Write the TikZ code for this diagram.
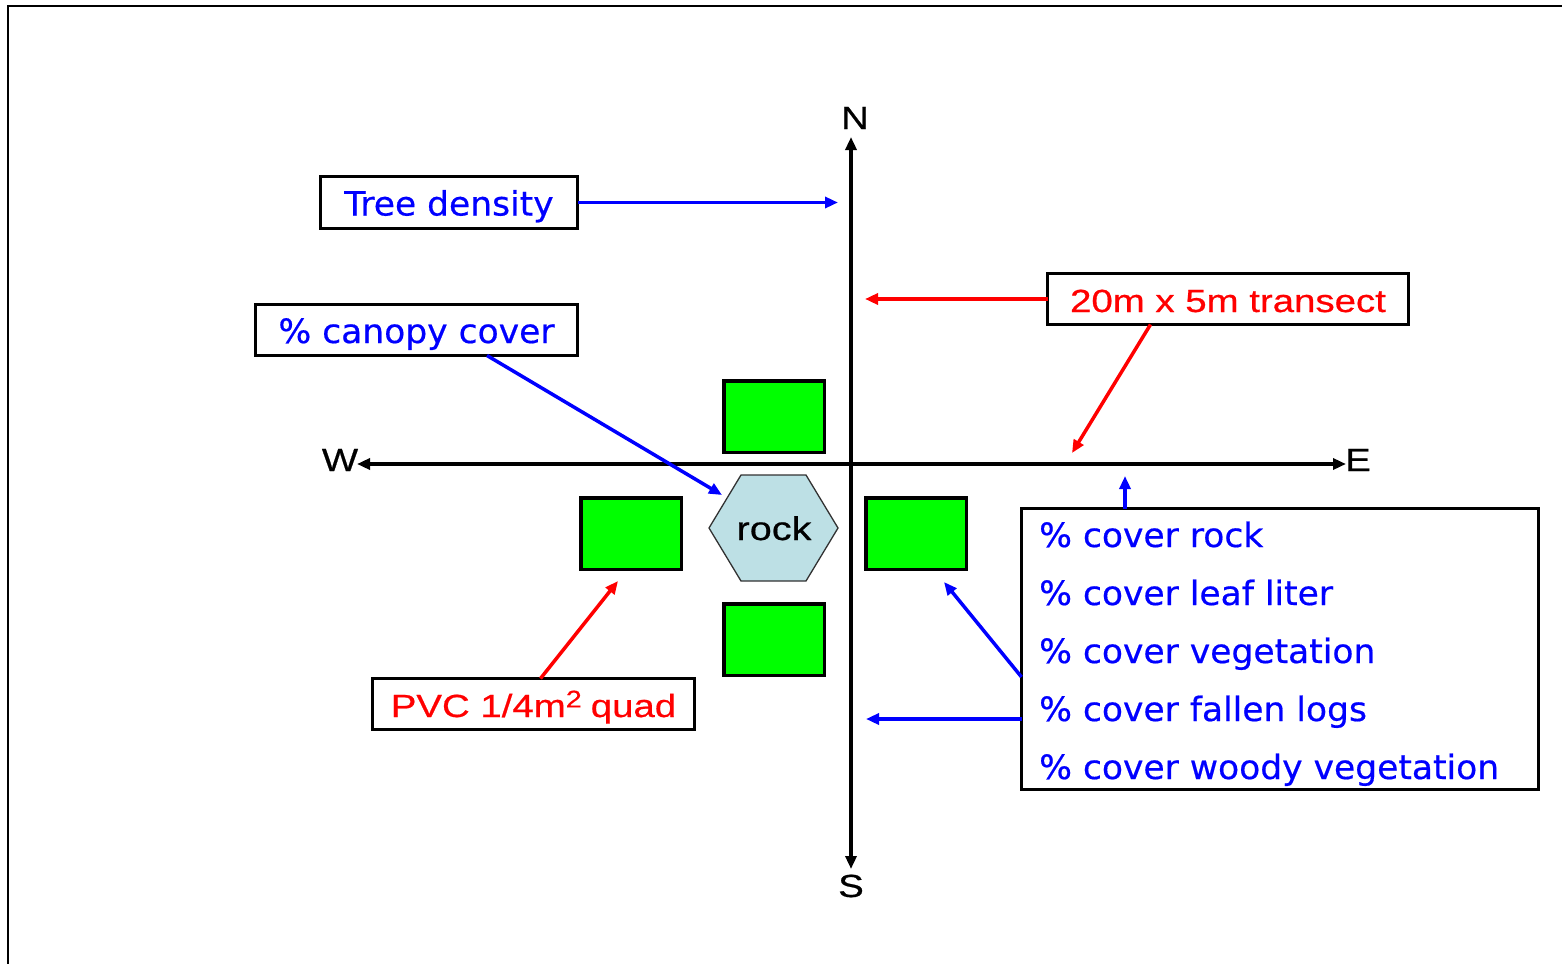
\documentclass[tikz,border=0pt]{standalone}
\usepackage{fontspec}
\setmainfont{Liberation Sans}
\newfontfamily\bluefont[FakeStretch=1.03,FakeBold=0.5]{DejaVu Sans}
\newfontfamily\arialw[FakeStretch=1.2,FakeBold=0.6]{Liberation Sans}
\usetikzlibrary{arrows.meta,calc}
\definecolor{myblue}{RGB}{0,0,255}
\definecolor{myred}{RGB}{255,0,0}
\definecolor{mygreen}{RGB}{0,255,0}
\definecolor{rockfill}{RGB}{189,224,229}
\definecolor{rockline}{RGB}{50,50,50}
\begin{document}
\begin{tikzpicture}[x=1pt,y=-1pt,
  lbox/.style={draw=black,line width=3.5pt,inner sep=0pt,outer sep=0pt,text height=26pt,text depth=0pt},
  bluetxt/.style={text=myblue,font=\bluefont\fontsize{33.5}{40}\selectfont},
  redtxt/.style={text=myred,font=\arialw\fontsize{32}{38}\selectfont},
  axlabel/.style={text=black,font=\arialw\fontsize{32}{38}\selectfont,inner sep=0pt,anchor=base},
  quad/.style={draw=black,line width=3.5pt,fill=mygreen,minimum width=100.5pt,minimum height=71.5pt,inner sep=0pt,outer sep=0pt},
  axis/.style={line width=4pt,{Triangle[length=13pt,width=11pt]}-{Triangle[length=13pt,width=11pt]}},
  bluearrow/.style={draw=myblue,line width=3.5pt,-{Triangle[length=13pt,width=11pt]}},
  redarrow/.style={draw=myred,line width=3.5pt,-{Triangle[length=13pt,width=11pt]}},
  coverline/.style={bluetxt,anchor=base west,inner sep=0pt}
]
\useasboundingbox (0,0) rectangle (1562,963);
% frame
\draw[line width=2.2pt] (8,970) -- (8,6) -- (1570,6);

% axes
\coordinate (ntip) at (851,137);
\coordinate (stip) at (851,869);
\coordinate (wtip) at (357,464);
\coordinate (etip) at (1346,464);
\draw[axis] (stip) -- (ntip);
\draw[axis] (wtip) -- (etip);
\node[axlabel] (N) at (855,129) {N};
\node[axlabel] (S) at (851,897) {S};
\node[axlabel] (W) at (340,471) {W};
\node[axlabel] (E) at (1358,471) {E};

% quadrats
\node[quad] (qtop) at (774,416.5) {};
\node[quad] (qleft) at (631,533.5) {};
\node[quad] (qright) at (916,533.5) {};
\node[quad] (qbottom) at (774,639.5) {};

% rock
\draw[draw=rockline,fill=rockfill,line width=1.3pt]
  (709,528) -- (741,475) -- (806,475) -- (838,528) -- (806,581) -- (741,581) -- cycle;
\node[text=black,font=\arialw\fontsize{33}{38}\selectfont,anchor=base,inner sep=0pt] (rock) at (774,540) {rock};

% label boxes
\node[lbox,bluetxt,minimum width=257pt,minimum height=52pt] (tree) at (449,202.5) {Tree density};
\node[lbox,bluetxt,minimum width=322pt,minimum height=51pt] (canopy) at (416.5,330) {\% canopy cover};
\node[lbox,redtxt,minimum width=361pt,minimum height=51pt] (transect) at (1228,299) {20m x 5m transect};
\node[lbox,redtxt,minimum width=322pt,minimum height=51pt] (pvc) at (533.5,704) {PVC 1/4m\raisebox{0.3em}{\fontsize{24}{24}\selectfont 2}\hspace{0.28em}quad};
\node[lbox,minimum width=517pt,minimum height=281pt] (cover) at (1280,649) {};
\node[coverline] (c1) at (1039,547) {\% cover rock};
\node[coverline] (c2) at (1039,605) {\% cover leaf liter};
\node[coverline] (c3) at (1039,663) {\% cover vegetation};
\node[coverline] (c4) at (1039,721) {\% cover fallen logs};
\node[coverline] (c5) at (1039,779) {\% cover woody vegetation};

% connector ends
\coordinate (treeend) at (838,202.5);
\coordinate (canopyend) at (722,495);
\coordinate (transectend) at (865,299);
\coordinate (transectend2) at (1072,453);
\coordinate (pvcend) at (618,581);
\coordinate (coverup) at (1125,476);
\coordinate (coverquad) at (944,582);
\coordinate (coveraxis) at (866,719);

% connectors
\draw[bluearrow] (tree.east) -- (treeend);
\draw[bluearrow] ($(canopy.south west)+(231.5,0)$) -- (canopyend);
\draw[redarrow] (transect.west) -- (transectend);
\draw[redarrow] ($(transect.south west)+(103,0)$) -- (transectend2);
\draw[redarrow] ($(pvc.north west)+(168,0)$) -- (pvcend);
\draw[bluearrow] ($(cover.north west)+(103.5,0)$) -- (coverup);
\draw[bluearrow] ($(cover.west)+(0,28)$) -- (coverquad);
\draw[bluearrow] ($(cover.west)+(0,70)$) -- (coveraxis);
\end{tikzpicture}
\end{document}
